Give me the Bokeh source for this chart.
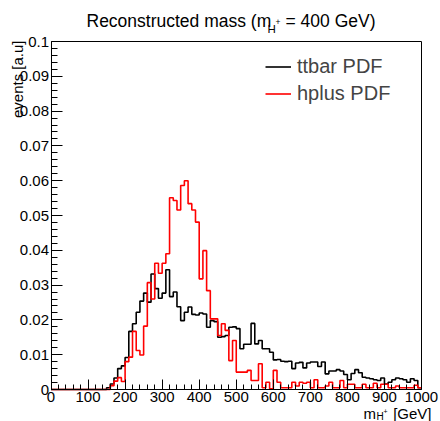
from bokeh.plotting import figure
from bokeh.models import Range1d, FixedTicker, Label, Legend, LegendItem, LinearAxis
from bokeh.embed import file_html
from bokeh.resources import INLINE

# ---------------- data ----------------
bin_edges = [10 * i for i in range(101)]  # 0..1000 GeV, 10 GeV bins

ttbar_pdf = [
    0, 0, 0, 0, 0, 0, 0, 0, 0, 0,
    0, 0, 0, 0, 0, 0.0005, 0.0016, 0.0033, 0.0060, 0.0068,
    0.0092, 0.0167, 0.0189, 0.0222, 0.0254, 0.0277, 0.0251, 0.0332, 0.0290, 0.0262,
    0.0277, 0.0344, 0.0267, 0.0280, 0.0238, 0.0198, 0.0222, 0.0237, 0.0216, 0.0214,
    0.0220, 0.0217, 0.0179, 0.0198, 0.0195, 0.0150, 0.0152, 0.0155, 0.0179, 0.0180,
    0.0175, 0.0117, 0.0130, 0.0130, 0.0190, 0.0131, 0.0141, 0.0117, 0.0117, 0.0107,
    0.0085, 0.0086, 0.0081, 0.0080, 0.0081, 0.0060, 0.0076, 0.0078, 0.0062, 0.0076,
    0.0079, 0.0079, 0.0066, 0.0079, 0.0045, 0.0053, 0.0053, 0.0057, 0.0053, 0.0043,
    0.0028, 0.0046, 0.0057, 0.0048, 0.0035, 0.0033, 0.0031, 0.0028, 0.0026, 0.0033,
    0.0016, 0.0021, 0.0028, 0.0033, 0.0031, 0.0028, 0.0021, 0.0031, 0.0026, 0.0005,
]

hplus_pdf = [
    0, 0, 0, 0, 0, 0, 0, 0, 0, 0,
    0, 0, 0, 0, 0, 0, 0.0011, 0.0024, 0.0034, 0.0023,
    0.0080, 0.0093, 0.0167, 0.0112, 0.0099, 0.0182, 0.0307, 0.0260, 0.0363, 0.0334,
    0.0363, 0.0390, 0.0551, 0.0543, 0.0516, 0.0586, 0.0600, 0.0534, 0.0516, 0.0481,
    0.0318, 0.0399, 0.0284, 0.0203, 0.0203, 0.0155, 0.0189, 0.0170, 0.0083, 0.0141,
    0.0050, 0.0050, 0.0050, 0.0055, 0.0026, 0.0026, 0.0074, 0.0005, 0.0021, 0.0002,
    0.0055, 0.0021, 0.0005, 0.0005, 0.0005, 0.0021, 0.0010, 0.0021, 0.0018, 0.0021,
    0.0005, 0.0028, 0.0005, 0.0005, 0.0010, 0.0021, 0.0005, 0.0005, 0.0026, 0.0005,
    0.0015, 0.0015, 0.0005, 0.0005, 0.0015, 0.0005, 0.0005, 0.0018, 0.0005, 0.0015,
    0.0015, 0.0005, 0.0005, 0.0010, 0.0005, 0.0005, 0.0005, 0.0005, 0.0012, 0.0005,
]

x_tick_labels = ["0", "100", "200", "300", "400", "500", "600", "700", "800", "900", "1000"]
y_tick_labels = ["0", "0.01", "0.02", "0.03", "0.04", "0.05", "0.06", "0.07", "0.08", "0.09", "0.1"]
series_names = ["ttbar PDF", "hplus PDF"]

# ---------------- geometry ----------------
FONT = "Liberation Sans"
W, H = 440, 421
BOX_L, BOX_R, BOX_T, BOX_B = 50.5, 421.0, 41.0, 389.0   # pixel box of the histogram frame
X0, X1 = 0.0, 1000.0
Y0, Y1 = 0.0, 0.1
sx = (BOX_R - BOX_L) / (X1 - X0)
sy = (BOX_B - BOX_T) / (Y1 - Y0)
x_range = Range1d(X0 - BOX_L / sx, X1 + (W - BOX_R) / sx)
y_range = Range1d(Y0 - (H - BOX_B) / sy, Y1 + BOX_T / sy)

def dx(px):
    return X0 + (px - BOX_L) / sx

def dy(py):
    return Y0 + (BOX_B - py) / sy

p = figure(
    width=W, height=H,
    min_border_left=0, min_border_right=0, min_border_top=0, min_border_bottom=0,
    x_range=x_range, y_range=y_range,
    output_backend="svg", toolbar_location=None,
)
p.background_fill_color = "white"
p.border_fill_color = "white"
p.outline_line_color = None
p.xgrid.visible = False
p.ygrid.visible = False

x_ticks = [float(s) for s in x_tick_labels]
y_ticks = [float(s) for s in y_tick_labels]
p.xaxis.ticker = FixedTicker(ticks=x_ticks, minor_ticks=[20 * i for i in range(51)])
p.yaxis.ticker = FixedTicker(ticks=y_ticks, minor_ticks=[round(0.002 * i, 3) for i in range(51)])
p.xaxis.major_label_overrides = {t: s for t, s in zip(x_ticks, x_tick_labels)}
p.yaxis.major_label_overrides = {t: s for t, s in zip(y_ticks, y_tick_labels)}
p.xaxis.fixed_location = Y0
p.yaxis.fixed_location = X0
p.xaxis.bounds = (X0, X1)
p.yaxis.bounds = (Y0, Y1)

for ax, maj, mnr in ((p.xaxis, 10, 5), (p.yaxis, 11, 6)):
    ax.major_tick_in = maj
    ax.major_tick_out = 0
    ax.minor_tick_in = mnr
    ax.minor_tick_out = 0
    ax.axis_line_color = "black"
    ax.major_tick_line_color = "black"
    ax.minor_tick_line_color = "black"
    ax.major_label_text_font = FONT
    ax.major_label_text_font_size = "15px"
    ax.major_label_text_color = "black"
    ax.major_label_standoff = 2

# frame box: top and right borders as tick-less axes
top_ax = LinearAxis(fixed_location=Y1, bounds=(X0, X1), ticker=FixedTicker(ticks=[]),
                    axis_line_color="black", major_label_text_alpha=0)
right_ax = LinearAxis(fixed_location=X1, bounds=(Y0, Y1), ticker=FixedTicker(ticks=[]),
                      axis_line_color="black", major_label_text_alpha=0)
p.add_layout(top_ax, "above")
p.add_layout(right_ax, "right")

# ---------------- histograms ----------------
r_tt = p.step(bin_edges, ttbar_pdf + [ttbar_pdf[-1]], mode="after",
              line_color="black", line_width=1.6)
r_hp = p.step(bin_edges, hplus_pdf + [hplus_pdf[-1]], mode="after",
              line_color="#ff0000", line_width=1.6)

legend = Legend(
    items=[LegendItem(label=series_names[0], renderers=[r_tt]),
           LegendItem(label=series_names[1], renderers=[r_hp])],
    location=(265, H - 105), padding=0, margin=0, spacing=4,
    glyph_width=26, glyph_height=23, label_height=23, label_standoff=6,
    label_text_font=FONT, label_text_font_size="20px",
    border_line_alpha=0, background_fill_alpha=0,
)
p.add_layout(legend, "center")

# ---------------- texts ----------------
def lab(text, px, py, size, align="left", angle=0.0):
    p.add_layout(Label(x=dx(px), y=dy(py), text=text, text_font=FONT,
                       text_font_size=size, text_align=align, text_baseline="alphabetic",
                       angle=angle, text_color="black"))

# title: Reconstructed mass (m_{H^{+}} = 400 GeV)
lab("Reconstructed mass (m", 86, 20, "17.5px")
lab("H", 267, 28, "11.5px")
lab("+", 275, 21, "8.5px")
lab("= 400 GeV)", 285, 20, "17.5px")

# y axis title
lab("events [a.u]", 17, 40, "15px", align="right", angle=1.5707963)

# x axis title: m_{H^{+}} [GeV]
lab("m", 363, 413, "15px")
lab("H", 376, 416, "10px")
lab("+", 383, 411, "7px")
lab("[GeV]", 431, 413, "15px", align="right")

open("out.html", "w").write(file_html(p, INLINE))
